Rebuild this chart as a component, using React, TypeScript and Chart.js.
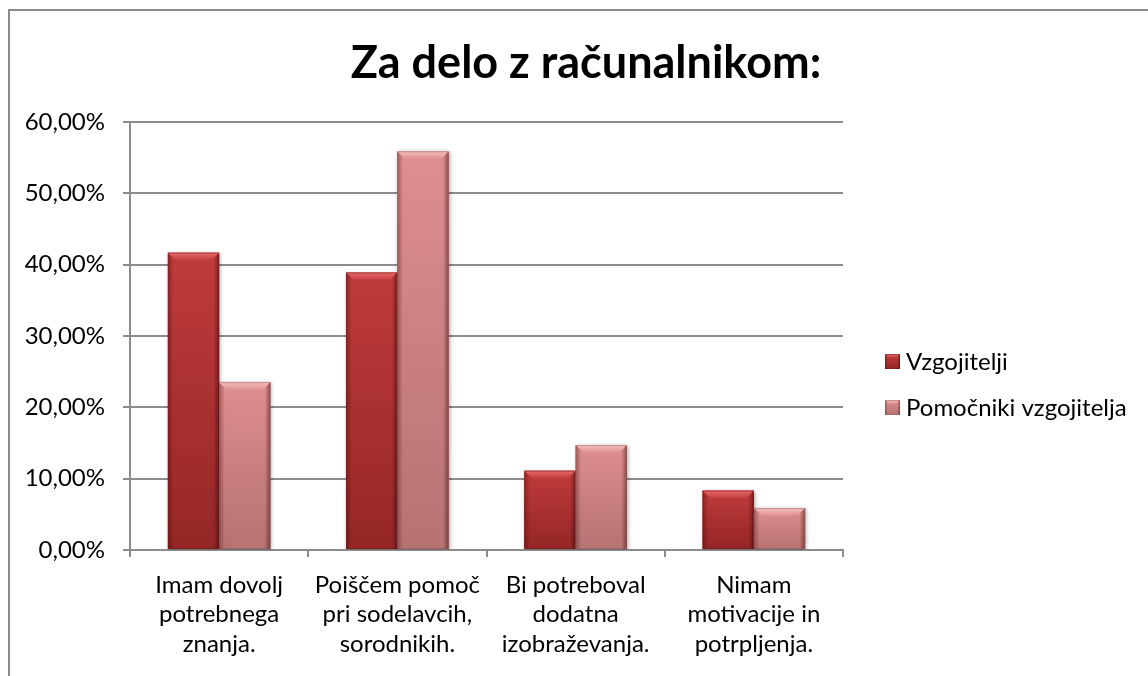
import React, { useEffect, useRef } from 'react';
import { Chart, registerables } from 'chart.js';

Chart.register(...registerables);

const chartTitle = 'Za delo z računalnikom:';
const categories: string[][] = [
  ['Imam dovolj', 'potrebnega', 'znanja.'],
  ['Poiščem pomoč', 'pri sodelavcih,', 'sorodnikih.'],
  ['Bi potreboval', 'dodatna', 'izobraževanja.'],
  ['Nimam', 'motivacije in', 'potrpljenja.'],
];
const seriesNames = ['Vzgojitelji', 'Pomočniki vzgojitelja'];
const vzgojitelji = [41.67, 38.89, 11.11, 8.33];
const pomocniki = [23.53, 55.88, 14.71, 5.88];
const yMin = 0;
const yMax = 60;
const yStep = 10;

const palettes = [
  { base: '#B03232', light: '#C03B3B', dark: '#952626', hi: '#E86A6A', edge: '#6E1818' },
  { base: '#D48484', light: '#DE8E8E', dark: '#B77272', hi: '#F6C0C0', edge: '#8E5656' },
];

const FONT = 'Lato';
const GRID = '#8c8c8c';

function drawBevelBox(ctx: CanvasRenderingContext2D, l: number, t: number, w: number, h: number, p: typeof palettes[0], shadow: boolean) {
  if (w <= 0 || h <= 0) return;
  const r = l + w;
  const btm = t + h;
  const b = Math.max(1, Math.min(8, h / 2, w / 4));
  ctx.save();
  if (shadow) {
    ctx.shadowColor = 'rgba(0,0,0,0.35)';
    ctx.shadowBlur = 4;
    ctx.shadowOffsetX = 1;
    ctx.shadowOffsetY = 1;
  }
  const g = ctx.createLinearGradient(0, t, 0, btm);
  g.addColorStop(0, p.light);
  g.addColorStop(1, p.dark);
  ctx.fillStyle = g;
  ctx.fillRect(l, t, w, h);
  ctx.restore();

  ctx.save();
  const gt = ctx.createLinearGradient(0, t, 0, t + b);
  gt.addColorStop(0, p.hi);
  gt.addColorStop(1, p.light);
  ctx.fillStyle = gt;
  ctx.beginPath();
  ctx.moveTo(l, t);
  ctx.lineTo(r, t);
  ctx.lineTo(r - b, t + b);
  ctx.lineTo(l + b, t + b);
  ctx.closePath();
  ctx.fill();
  const gl = ctx.createLinearGradient(l, 0, l + b * 0.7, 0);
  gl.addColorStop(0, 'rgba(60,0,0,0.35)');
  gl.addColorStop(1, 'rgba(60,0,0,0)');
  ctx.fillStyle = gl;
  ctx.beginPath();
  ctx.moveTo(l, t);
  ctx.lineTo(l + b, t + b);
  ctx.lineTo(l + b, btm);
  ctx.lineTo(l, btm);
  ctx.closePath();
  ctx.fill();
  const gr = ctx.createLinearGradient(r, 0, r - b * 0.7, 0);
  gr.addColorStop(0, 'rgba(40,0,0,0.45)');
  gr.addColorStop(1, 'rgba(40,0,0,0)');
  ctx.fillStyle = gr;
  ctx.beginPath();
  ctx.moveTo(r, t);
  ctx.lineTo(r - b, t + b);
  ctx.lineTo(r - b, btm);
  ctx.lineTo(r, btm);
  ctx.closePath();
  ctx.fill();
  ctx.strokeStyle = p.edge;
  ctx.globalAlpha = 0.45;
  ctx.lineWidth = 1;
  ctx.strokeRect(l + 0.5, t + 0.5, w - 1, h - 1);
  ctx.restore();
}

const bevelBarsPlugin = {
  id: 'bevelBars',
  afterDatasetsDraw(chart: any) {
    const ctx = chart.ctx as CanvasRenderingContext2D;
    const area = chart.chartArea;
    ctx.save();
    ctx.beginPath();
    ctx.rect(area.left - 10, area.top - 10, area.right - area.left + 20, area.bottom - area.top + 10);
    ctx.clip();
    chart.data.datasets.forEach((ds: any, i: number) => {
      const meta = chart.getDatasetMeta(i);
      meta.data.forEach((el: any) => {
        const { x, y, base, width } = el.getProps(['x', 'y', 'base', 'width'], true);
        drawBevelBox(ctx, x - width / 2, y, width, base - y, palettes[i], true);
      });
    });
    ctx.restore();
  },
};

const titlePlugin = {
  id: 'freeTitle',
  afterDraw(chart: any) {
    const ctx = chart.ctx as CanvasRenderingContext2D;
    ctx.save();
    ctx.fillStyle = '#000';
    ctx.font = `bold 45px ${FONT}`;
    ctx.textAlign = 'center';
    ctx.textBaseline = 'middle';
    ctx.fillText(chartTitle, 586, 63);
    ctx.restore();
  },
};

const legendPlugin = {
  id: 'sideLegend',
  afterDraw(chart: any) {
    const ctx = chart.ctx as CanvasRenderingContext2D;
    ctx.save();
    chart.data.datasets.forEach((ds: any, i: number) => {
      const top = 354 + i * 46;
      drawBevelBox(ctx, 885, top, 15, 15, palettes[i], false);
      ctx.fillStyle = '#000';
      ctx.font = `24px ${FONT}`;
      ctx.textBaseline = 'middle';
      ctx.textAlign = 'left';
      ctx.fillText(ds.label, 906, top + 8);
    });
    ctx.restore();
  },
};

export default function App() {
  const ref = useRef<HTMLCanvasElement | null>(null);

  useEffect(() => {
    if (!ref.current) return;
    const datasetsSrc = [vzgojitelji, pomocniki];
    const chart = new Chart(ref.current, {
      type: 'bar',
      data: {
        labels: categories,
        datasets: datasetsSrc.map((d, i) => ({
          label: seriesNames[i],
          data: d,
          backgroundColor: palettes[i].base,
          borderWidth: 0,
          categoryPercentage: 0.575,
          barPercentage: 1.0,
        })),
      },
      options: {
        responsive: false,
        animation: false,
        events: [],
        layout: { padding: { left: 0, right: 305, top: 122, bottom: 0 } },
        plugins: {
          legend: { display: false },
          tooltip: { enabled: false },
          title: { display: false },
        },
        scales: {
          x: {
            grid: { offset: true, drawOnChartArea: false, drawTicks: true, tickLength: 7, color: GRID, lineWidth: 2 },
            border: { display: true, color: GRID, width: 2 },
            ticks: {
              autoSkip: false,
              maxRotation: 0,
              minRotation: 0,
              color: '#000',
              padding: 13,
              font: { family: FONT, size: 24, lineHeight: 1.24 },
            },
            afterFit: (scale: any) => { scale.height = 126; },
          },
          y: {
            min: yMin,
            max: yMax,
            grid: { color: GRID, lineWidth: 2, drawTicks: true, tickLength: 7 },
            border: { display: true, color: GRID, width: 2 },
            ticks: {
              stepSize: yStep,
              color: '#000',
              padding: 18,
              font: { family: FONT, size: 24 },
              callback: (v: any) => Number(v).toFixed(2).replace('.', ',') + '%',
            },
            afterFit: (scale: any) => { scale.width = 130; },
          },
        },
      },
      plugins: [bevelBarsPlugin, titlePlugin, legendPlugin],
    });
    return () => chart.destroy();
  }, []);

  return (
    <div style={{ position: 'fixed', left: 0, top: 0, width: 1148, height: 676, overflow: 'hidden', background: '#fff' }}>
      <div
        style={{
          position: 'absolute',
          left: 8,
          top: 9,
          width: 1140,
          height: 667,
          boxSizing: 'border-box',
          borderLeft: '2px solid #8a8a8a',
          borderTop: '2px solid #8a8a8a',
        }}
      />
      <canvas ref={ref} width={1148} height={676} style={{ position: 'absolute', left: 0, top: 0, width: 1148, height: 676 }} />
    </div>
  );
}
